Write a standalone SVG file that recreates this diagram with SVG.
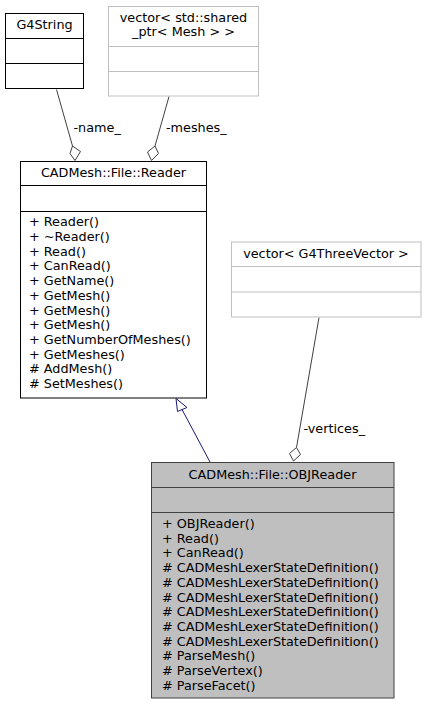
<svg xmlns="http://www.w3.org/2000/svg" width="426" height="705" viewBox="0 0 426 705">
<style>
text{font-family:"DejaVu Sans","Noto Sans",sans-serif;font-size:12.8px;fill:#000}
.c{text-anchor:middle}
.box{fill:#fff;stroke:#000;stroke-width:1}
.ext{fill:#fff;stroke:#bfbfbf;stroke-width:1}
.cur{fill:#bfbfbf;stroke:#404040;stroke-width:1}
.dv{stroke:#000;stroke-width:1}
.dve{stroke:#bfbfbf;stroke-width:1}
.dvc{stroke:#404040;stroke-width:1}
.agg{fill:none;stroke:#404040;stroke-width:1}
.dia{fill:#fff;stroke:#404040;stroke-width:1}
.inh{fill:none;stroke:#191970;stroke-width:1}
.tri{fill:#fff;stroke:#191970;stroke-width:1}
</style>
<g id="connectors">
<path class="agg" d="M56.5,89.5 L72.5,146"/>
<polygon class="dia" points="72.5,146 80.5,151.5 75,160.5 70,153.5"/>
<text x="73.5" y="131.5">-name_</text>
<path class="agg" d="M169,96.5 L155,146"/>
<polygon class="dia" points="155,146 158.5,153.5 151.5,160.5 147.5,152"/>
<text x="166" y="131.5">-meshes_</text>
<path class="agg" d="M319,317.5 L296.5,447.5"/>
<polygon class="dia" points="296.5,447.5 300.5,454.5 293.5,461 289.5,453.5"/>
<text x="303.5" y="432.5">-vertices_</text>
<path class="inh" d="M210,462 L181.5,408.5"/>
<polygon class="tri" points="176,398.5 187,407.5 177.5,411.5"/>
</g>
<g id="G4String">
<rect class="box" x="5.5" y="13.5" width="78" height="75"/>
<line class="dv" x1="5.5" y1="38.5" x2="83.5" y2="38.5"/>
<line class="dv" x1="5.5" y1="63.5" x2="83.5" y2="63.5"/>
<text class="c" x="44.5" y="29">G4String</text>
</g>
<g id="vector_shared_ptr_Mesh">
<rect class="ext" x="108.5" y="6.5" width="150" height="89.5"/>
<line class="dve" x1="108.5" y1="46.5" x2="258.5" y2="46.5"/>
<line class="dve" x1="108.5" y1="71.5" x2="258.5" y2="71.5"/>
<text class="c" x="183.5" y="21.5">vector&lt; std::shared</text>
<text class="c" x="183.5" y="36.2">_ptr&lt; Mesh &gt; &gt;</text>
</g>
<g id="CADMesh_File_Reader">
<rect class="box" x="20.5" y="161.5" width="186" height="236.5"/>
<line class="dv" x1="20.5" y1="185.5" x2="206.5" y2="185.5"/>
<line class="dv" x1="20.5" y1="211.5" x2="206.5" y2="211.5"/>
<text class="c" x="113.5" y="177">CADMesh::File::Reader</text>
<text x="29" y="226.3">+ Reader()</text>
<text x="29" y="241">+ ~Reader()</text>
<text x="29" y="255.7">+ Read()</text>
<text x="29" y="270.4">+ CanRead()</text>
<text x="29" y="285.1">+ GetName()</text>
<text x="29" y="299.8">+ GetMesh()</text>
<text x="29" y="314.5">+ GetMesh()</text>
<text x="29" y="329.2">+ GetMesh()</text>
<text x="29" y="343.9">+ GetNumberOfMeshes()</text>
<text x="29" y="358.6">+ GetMeshes()</text>
<text x="29" y="373.3">#  AddMesh()</text>
<text x="29" y="388">#  SetMeshes()</text>
</g>
<g id="vector_G4ThreeVector">
<rect class="ext" x="231.5" y="242" width="189.5" height="75"/>
<line class="dve" x1="231.5" y1="266.5" x2="421" y2="266.5"/>
<line class="dve" x1="231.5" y1="292" x2="421" y2="292"/>
<text class="c" x="326" y="257.5">vector&lt; G4ThreeVector &gt;</text>
</g>
<g id="CADMesh_File_OBJReader">
<rect class="cur" x="151.5" y="462.5" width="242.5" height="235.5"/>
<line class="dvc" x1="151.5" y1="487.5" x2="394" y2="487.5"/>
<line class="dvc" x1="151.5" y1="512.5" x2="394" y2="512.5"/>
<text class="c" x="272.5" y="478.5">CADMesh::File::OBJReader</text>
<text x="162" y="528">+ OBJReader()</text>
<text x="162" y="542.7">+ Read()</text>
<text x="162" y="557.4">+ CanRead()</text>
<text x="162" y="572.1">#  CADMeshLexerStateDefinition()</text>
<text x="162" y="586.8">#  CADMeshLexerStateDefinition()</text>
<text x="162" y="601.5">#  CADMeshLexerStateDefinition()</text>
<text x="162" y="616.2">#  CADMeshLexerStateDefinition()</text>
<text x="162" y="630.9">#  CADMeshLexerStateDefinition()</text>
<text x="162" y="645.6">#  CADMeshLexerStateDefinition()</text>
<text x="162" y="660.3">#  ParseMesh()</text>
<text x="162" y="675">#  ParseVertex()</text>
<text x="162" y="689.7">#  ParseFacet()</text>
</g>
</svg>
